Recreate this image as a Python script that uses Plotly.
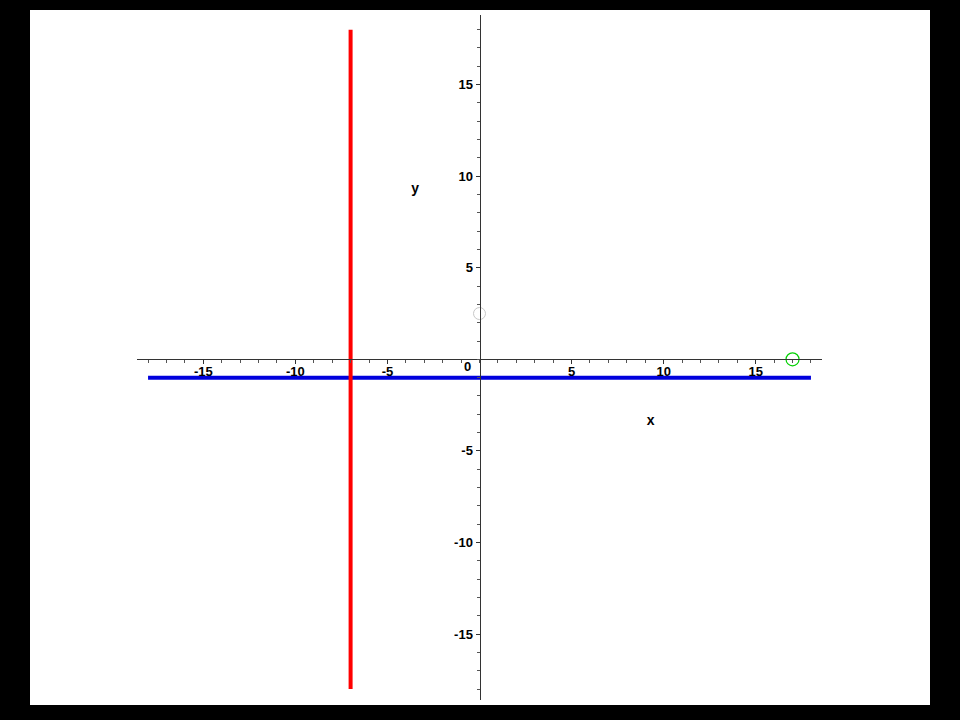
import plotly.graph_objects as go

# data
red_x = [-7, -7]
red_y = [-18, 18]
blue_x = [-18, 18]
blue_y = [-1, -1]
gray_pt = ([0], [2.5])
green_pt = ([17], [0])
label_text = ["y", "x"]
label_x = [-3.5, 9.3]
label_y = [9.3, -3.4]
x_ticks = [-15, -10, -5, 5, 10, 15]
x_ticktext = ["-15", "-10", "-5", "5", "10", "15"]
y_ticks = [-15, -10, -5, 5, 10, 15]
y_ticktext = ["-15", "-10", "-5", "5", "10", "15"]
x_range = [-18.6, 18.6]
y_range = [-18.6, 18.8]

W, H = 960, 720
ml, mr, mt, mb = 30, 30, 10, 15
pw, ph = W - ml - mr, H - mt - mb
xdom = [(137 - ml) / pw, (822 - ml) / pw]
ydom = [(H - mb - 700) / ph, (H - mb - 15) / ph]
xpos = xdom[0] + (0 - x_range[0]) / (x_range[1] - x_range[0]) * (xdom[1] - xdom[0])
ypos = ydom[0] + (0 - y_range[0]) / (y_range[1] - y_range[0]) * (ydom[1] - ydom[0])

fig = go.Figure()
fig.add_trace(go.Scatter(x=blue_x, y=blue_y, mode="lines",
                         line=dict(color="#0000dd", width=4), hoverinfo="skip"))
fig.add_trace(go.Scatter(x=red_x, y=red_y, mode="lines",
                         line=dict(color="#ff0000", width=4), hoverinfo="skip"))
fig.add_trace(go.Scatter(x=gray_pt[0], y=gray_pt[1], mode="markers",
                         marker=dict(symbol="circle-open", size=12, color="#c8c8c8",
                                     line=dict(width=1))))
fig.add_trace(go.Scatter(x=green_pt[0], y=green_pt[1], mode="markers",
                         marker=dict(symbol="circle-open", size=13, color="#00d000",
                                     line=dict(width=1.2))))
fig.add_trace(go.Scatter(x=label_x, y=label_y, mode="text", text=label_text,
                         textfont=dict(family="Liberation Sans", size=14, color="black",
                                       weight="bold")))

tickfont = dict(family="Liberation Sans", size=13, color="black", weight="bold")
fig.update_layout(
    width=W, height=H,
    margin=dict(l=ml, r=mr, t=mt, b=mb),
    paper_bgcolor="black",
    plot_bgcolor="white",
    showlegend=False,
    shapes=[dict(type="rect", xref="paper", yref="paper", x0=0, y0=0, x1=1, y1=1,
                 fillcolor="white", line=dict(width=0), layer="below")],
    xaxis=dict(domain=xdom, range=x_range, anchor="free", position=ypos,
               showline=True, linecolor="#333333", linewidth=1,
               showgrid=False, zeroline=False,
               tickvals=x_ticks, ticktext=x_ticktext,
               ticks="outside", ticklen=4, tickcolor="#333333",
               tickfont=tickfont, ticklabelstandoff=-4,
               minor=dict(dtick=1, ticks="outside", ticklen=3, tickcolor="#555555",
                          showgrid=False)),
    yaxis=dict(domain=ydom, range=y_range, anchor="free", position=xpos,
               showline=True, linecolor="#333333", linewidth=1,
               showgrid=False, zeroline=False,
               tickvals=y_ticks, ticktext=y_ticktext,
               ticks="outside", ticklen=4, tickcolor="#333333",
               tickfont=tickfont,
               minor=dict(dtick=1, ticks="outside", ticklen=3, tickcolor="#555555",
                          showgrid=False)),
    annotations=[dict(x=0, y=0, xref="x", yref="y", text="0", showarrow=False,
                      xshift=-12, yshift=-7, font=tickfont)],
)

fig.write_html("out.html", config={"displayModeBar": False},
               post_script="document.body.style.margin='0';document.body.style.background='black';")
